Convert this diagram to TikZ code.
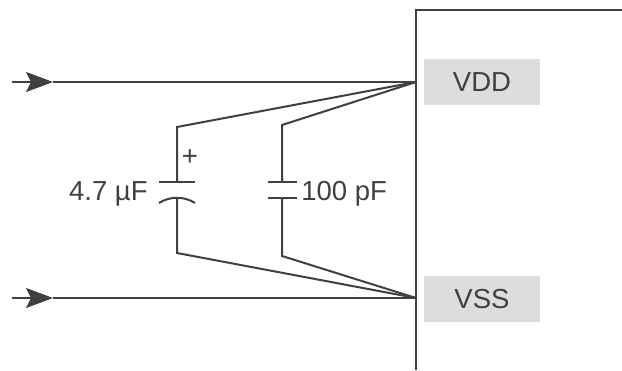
\documentclass[tikz,border=0pt]{standalone}
\usepackage{fontspec}
\setmainfont{Liberation Sans}
\usetikzlibrary{arrows.meta}
\definecolor{wirecol}{HTML}{404040}
\definecolor{pinfill}{HTML}{DDDDDD}
\tikzset{
  wire/.style={draw=wirecol, line width=1pt},
  feed/.style={wire, -{Stealth[length=13.5pt,width=10pt,inset=2.5pt]}},
  pinbox/.style={fill=pinfill, text=wirecol, minimum width=58pt, minimum height=23pt, inner sep=0pt},
  caplabel/.style={text=wirecol, inner sep=0pt}
}
\begin{document}
\begin{tikzpicture}[x=0.5pt, y=-0.5pt, font=\fontsize{13.75}{16}\selectfont]
    \useasboundingbox (0,0) rectangle (622,370);
    \def \plate {9pt} % half plate width
    % chip outline
    \draw[wire] (416,370) -- (416,10) -- (622,10);
    \node[pinbox] (vdd) at (482,82) {VDD};
    \node[pinbox] (vss) at (482,299) {VSS};
    \coordinate (vddpin) at (416,82);
    \coordinate (vsspin) at (416,298);
    % supply feeds
    \coordinate (vddin) at (12,82);
    \coordinate (vddarr) at (53,82);
    \coordinate (vssin) at (12,298);
    \coordinate (vssarr) at (53,298);
    \draw[feed] (vddin) -- (vddarr);
    \draw[wire] (vddarr) -- (vddpin);
    \draw[feed] (vssin) -- (vssarr);
    \draw[wire] (vssarr) -- (vsspin);
    % 4.7 uF electrolytic
    \coordinate (ctop) at (177,127);
    \coordinate (cplus) at (177,182);
    \coordinate (cminus) at (177,198);
    \coordinate (cbot) at (177,253);
    \draw[wire] (vddpin) -- (ctop) -- (cplus);
    \draw[wire] ([xshift=-\plate]cplus) -- ([xshift=\plate]cplus);
    \draw[wire] ([xshift=-\plate,yshift=-2.5pt]cminus) .. controls ([xshift=-3.5pt,yshift=1pt]cminus)
      and ([xshift=3.5pt,yshift=1pt]cminus) .. ([xshift=\plate,yshift=-2.5pt]cminus);
    \draw[wire] (cminus) -- (cbot) -- (vsspin);
    \node[caplabel, anchor=center] (plus) at (190,158) {+};
    \node[caplabel, anchor=base east] (elabel) at (148,200) {4.7 µF};
    % 100 pF ceramic
    \coordinate (dtop) at (282,125);
    \coordinate (dplus) at (282,182);
    \coordinate (dminus) at (282,198);
    \coordinate (dbot) at (282,256);
    \draw[wire] (vddpin) -- (dtop) -- (dplus);
    \draw[wire] ([xshift=-7pt]dplus) -- ([xshift=7.5pt]dplus);
    \draw[wire] ([xshift=-7pt]dminus) -- ([xshift=7.5pt]dminus);
    \draw[wire] (dminus) -- (dbot) -- (vsspin);
    \node[caplabel, anchor=base west] (dlabel) at (301,200) {100 pF};
\end{tikzpicture}
\end{document}
